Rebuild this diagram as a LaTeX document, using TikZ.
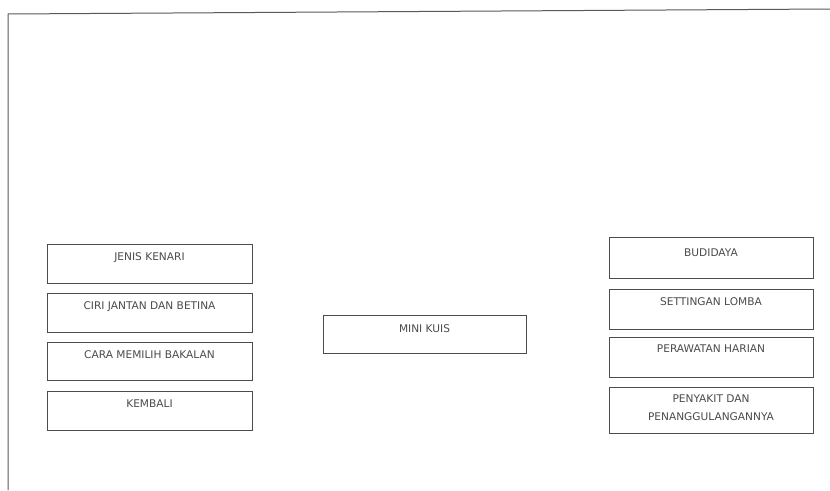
\documentclass[tikz,border=0pt]{standalone}
\usepackage{fontspec}
\setmainfont{DejaVu Sans}
\begin{document}
\begin{tikzpicture}[x=1pt,y=-1pt,
  menubox/.style={draw=black!70, line width=1pt, fill=white},
  menutext/.style={text=black!70, font=\fontsize{10.6}{18}\selectfont, align=center, inner sep=0pt},
  frameline/.style={draw=black!65, line width=1pt}]
\useasboundingbox (0,0) rectangle (830,490);
\coordinate (ftl) at (8,14);
\coordinate (ftr) at (830,9);
\coordinate (fbl) at (8,490);
\draw[frameline] (ftr) -- (ftl) -- (fbl);
% left column
\draw[menubox] (47,244) rectangle (252,283);
\node[menutext] (jenis) at (149.5,258) {JENIS KENARI};
\draw[menubox] (47,293) rectangle (252,332);
\node[menutext] (ciri) at (149.5,307) {CIRI JANTAN DAN BETINA};
\draw[menubox] (47,342) rectangle (252,380);
\node[menutext] (cara) at (149.5,355) {CARA MEMILIH BAKALAN};
\draw[menubox] (47,391) rectangle (252,430);
\node[menutext] (kembali) at (149.5,404) {KEMBALI};
% centre
\draw[menubox] (323,315) rectangle (526,353);
\node[menutext] (kuis) at (424.5,329) {MINI KUIS};
% right column
\draw[menubox] (609,237) rectangle (813,278);
\node[menutext] (budidaya) at (711,253) {BUDIDAYA};
\draw[menubox] (609,289) rectangle (813,329);
\node[menutext] (lomba) at (711,302) {SETTINGAN LOMBA};
\draw[menubox] (609,337) rectangle (813,377);
\node[menutext] (rawat) at (711,349) {PERAWATAN HARIAN};
\draw[menubox] (609,387) rectangle (813,433);
\node[menutext] (penyakit) at (711,408) {PENYAKIT DAN\\PENANGGULANGANNYA};
\end{tikzpicture}
\end{document}
